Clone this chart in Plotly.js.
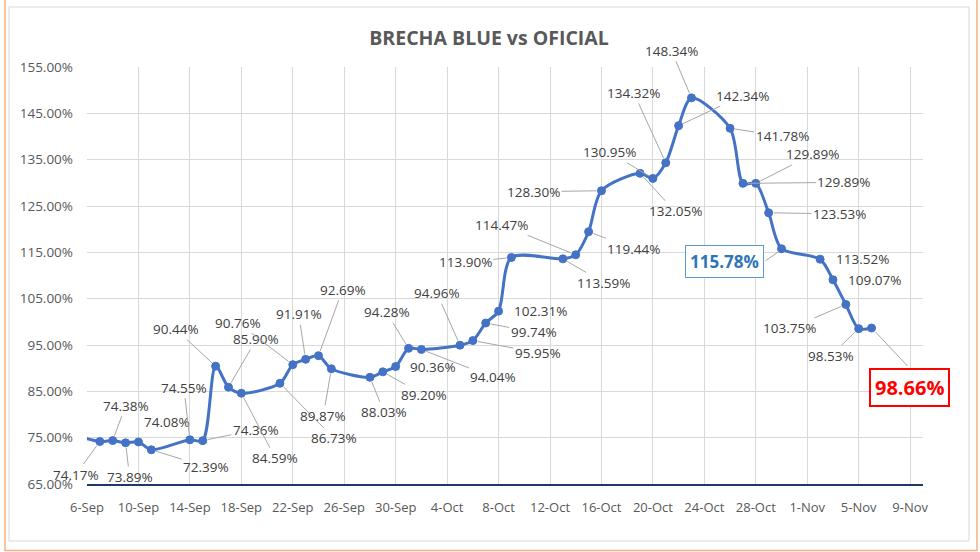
<!DOCTYPE html>
<html>
<head>
<meta charset="utf-8">
<script src="https://cdn.plot.ly/plotly-3.0.1.min.js"></script>
<style>
  html, body { margin: 0; padding: 0; background: #ffffff; }
  #chart { width: 980px; height: 552px; }
</style>
</head>
<body>
<div id="chart"></div>
<script>
// ---- Data (brecha % by date) ----
const dates = [
  '2020-09-04', '2020-09-07', '2020-09-08', '2020-09-09', '2020-09-10', '2020-09-11',
  '2020-09-14', '2020-09-15', '2020-09-16', '2020-09-17', '2020-09-18',
  '2020-09-21', '2020-09-22', '2020-09-23', '2020-09-24', '2020-09-25',
  '2020-09-28', '2020-09-29', '2020-09-30', '2020-10-01', '2020-10-02',
  '2020-10-05', '2020-10-06', '2020-10-07', '2020-10-08', '2020-10-09',
  '2020-10-13', '2020-10-14', '2020-10-15', '2020-10-16',
  '2020-10-19', '2020-10-20', '2020-10-21', '2020-10-22', '2020-10-23',
  '2020-10-26', '2020-10-27', '2020-10-28', '2020-10-29', '2020-10-30',
  '2020-11-02', '2020-11-03', '2020-11-04', '2020-11-05', '2020-11-06'
];
const values = [
  76.5, 74.17, 74.38, 73.89, 74.08, 72.39,
  74.55, 74.36, 90.44, 85.90, 84.59,
  86.73, 90.76, 91.91, 92.69, 89.87,
  88.03, 89.20, 90.36, 94.28, 94.04,
  94.96, 95.95, 99.74, 102.31, 113.90,
  113.59, 114.47, 119.44, 128.30,
  132.05, 130.95, 134.32, 142.34, 148.34,
  141.78, 129.89, 129.89, 123.53, 115.78,
  113.52, 109.07, 103.75, 98.53, 98.66
];
const xTickStart = '2020-09-06';
const xRange = ['2020-09-06', '2020-11-10'];
const yRange = [65, 155];
const chartTitle = 'BRECHA BLUE vs OFICIAL';

// ---- Label placement (pixel offsets from each point; null = no label) ----
const labelDx = [null, -24, 13, 4, 29, 55, -6, 53, -40, 28, 34, 54, -55, -7, 24, -8, 14, 41, 37, -22, 72,
  -23, 65, 48, 42, -46, 41, -74, 45, -68, 35, -43, -32, 64, -20, 52, 101, 57, 71, -57, 42, 42, -56, -28, 38];
const labelDy = [null, 33, -35, 34, -20, 17, -52, -11, -37, -48, 65, 55, -42, -45, -66, 47, 35, 23, 0, -36, 28,
  -52, 12, 9, 0, 5, 24, -30, 17, 1, 38, -26, -70, -30, -47, 8, -1, -29, 1, 13, 0, 0, 24, 27, 59];
const labelLeader = [0, 1, 1, 1, 0, 1, 1, 1, 1, 1, 1, 1, 1, 1, 1, 1, 1, 1, 0, 1, 1,
  1, 1, 1, 0, 1, 1, 1, 1, 1, 1, 1, 1, 1, 1, 1, 1, 1, 1, 1, 0, 0, 1, 1, 1];
const highlightBlue = '2020-10-30';
const highlightRed = '2020-11-06';
// leader segments for the boxed labels: [x0, y0, x1, y1] in pixels from the point (y up)
const blueLeader = [-3, -3, -16, -12];
const redLeader = [4, -4, 36, -38];

// ---- Layout geometry ----
const W = 980, H = 552;
const M = { l: 87, r: 57, t: 67, b: 68 };
const pw = W - M.l - M.r, ph = H - M.t - M.b;
const px2x = px => (px - M.l) / pw;
const py2y = py => (H - M.b - py) / ph;

const FAMILY = 'Open Sans, Liberation Sans, sans-serif';
const labelFont = { family: FAMILY, size: 13.5, color: '#404040' };

const annotations = [];
const leaderShapes = [];
dates.forEach((d, i) => {
  if (labelDx[i] === null) return;
  const a = {
    x: d, y: values[i], xref: 'x', yref: 'y',
    text: values[i].toFixed(2) + '%',
    font: labelFont,
    showarrow: true, arrowhead: 0, arrowwidth: 1, arrowcolor: '#A6A6A6',
    standoff: 5, ax: labelDx[i], ay: labelDy[i]
  };
  if (!labelLeader[i]) { a.arrowcolor = 'rgba(0,0,0,0)'; }
  let seg = null;
  if (d === highlightBlue) {
    a.font = { family: FAMILY, size: 17, color: '#2E75B6', weight: 700 };
    a.bordercolor = '#5B9BD5'; a.borderwidth = 1; a.borderpad = 4; a.bgcolor = '#ffffff';
    a.arrowcolor = 'rgba(0,0,0,0)';
    seg = blueLeader;
  }
  if (d === highlightRed) {
    a.font = { family: FAMILY, size: 20, color: '#FF0000', weight: 700 };
    a.bordercolor = '#FF0000'; a.borderwidth = 2; a.borderpad = 4; a.bgcolor = '#ffffff';
    a.arrowcolor = 'rgba(0,0,0,0)';
    seg = redLeader;
  }
  if (seg) {
    leaderShapes.push({
      type: 'line', xref: 'x', yref: 'y',
      xsizemode: 'pixel', ysizemode: 'pixel', xanchor: d, yanchor: values[i],
      x0: seg[0], y0: seg[1], x1: seg[2], y1: seg[3],
      line: { color: '#A6A6A6', width: 1 }
    });
  }
  annotations.push(a);
});

const shapes = [
  // chart area border
  { type: 'rect', xref: 'paper', yref: 'paper', x0: px2x(9), x1: px2x(969), y0: py2y(541), y1: py2y(7),
    line: { color: '#D9D9D9', width: 1 }, layer: 'below' },
  // spreadsheet selection outline (orange)
  { type: 'line', xref: 'paper', yref: 'paper', x0: px2x(5), x1: px2x(5), y0: py2y(551), y1: py2y(-5),
    line: { color: '#F4B183', width: 1.5 } },
  { type: 'line', xref: 'paper', yref: 'paper', x0: px2x(977), x1: px2x(977), y0: py2y(551), y1: py2y(-5),
    line: { color: '#F4B183', width: 1.5 } },
  { type: 'line', xref: 'paper', yref: 'paper', x0: px2x(5), x1: px2x(977), y0: py2y(550.5), y1: py2y(550.5),
    line: { color: '#F4B183', width: 1.5 } }
].concat(leaderShapes);

const trace = {
  x: dates, y: values, type: 'scatter', mode: 'lines+markers',
  line: { color: '#4472C4', width: 3, shape: 'spline', smoothing: 0.8 },
  marker: { color: '#4472C4', size: 8, line: { color: '#4472C4', width: 1 } },
  hoverinfo: 'x+y', cliponaxis: true
};

const layout = {
  width: W, height: H,
  margin: M,
  paper_bgcolor: '#ffffff', plot_bgcolor: '#ffffff',
  showlegend: false,
  title: {
    text: chartTitle, xref: 'container', x: 0.499, xanchor: 'center',
    yref: 'container', y: 1 - 38 / H, yanchor: 'middle',
    font: { family: FAMILY, size: 19.5, color: '#595959', weight: 700 }
  },
  xaxis: {
    type: 'date', range: xRange, tick0: xTickStart, dtick: 4 * 86400000,
    tickformat: '%-d-%b', showgrid: true, gridcolor: '#D9D9D9', gridwidth: 1,
    showline: true, linecolor: '#203864', linewidth: 1.5,
    ticks: '', ticklabelstandoff: 11, zeroline: false,
    tickfont: { family: FAMILY, size: 13, color: '#595959' }
  },
  yaxis: {
    range: yRange, dtick: 10, tick0: 65, tickformat: '.2f', ticksuffix: '%',
    showgrid: true, gridcolor: '#D9D9D9', gridwidth: 1, zeroline: false,
    showline: false, ticks: '', ticklabelstandoff: 13,
    tickfont: { family: FAMILY, size: 13.5, color: '#595959' }
  },
  annotations: annotations,
  shapes: shapes
};

Plotly.newPlot('chart', [trace], layout, { displayModeBar: false, staticPlot: true });
</script>
</body>
</html>
